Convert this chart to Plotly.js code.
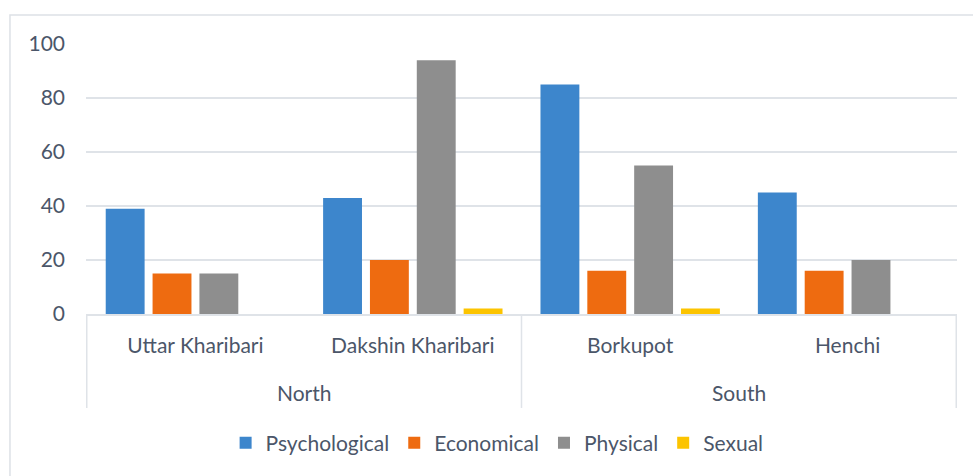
<!DOCTYPE html>
<html>
<head>
<meta charset="utf-8">
<script src="https://cdn.plot.ly/plotly-3.0.1.min.js"></script>
<style>
html,body{margin:0;padding:0;background:#fff;}
#chart{width:973px;height:476px;}
</style>
</head>
<body>
<div id="chart"></div>
<script>
var regions = ["North", "North", "South", "South"];
var villages = ["Uttar Kharibari", "Dakshin Kharibari", "Borkupot", "Henchi"];
var seriesNames = ["Psychological", "Economical", "Physical", "Sexual"];
var psychological = [39, 43, 85, 45];
var economical = [15, 20, 16, 16];
var physical = [15, 94, 55, 20];
var sexual = [0, 2, 2, 0];
var yTicks = [0, 20, 40, 60, 80, 100];

var seriesValues = [psychological, economical, physical, sexual];
var colors = ["#3d86cc", "#ee6b10", "#8e8e8e", "#fcc400"];

var traces = seriesNames.map(function (name, i) {
  return {
    type: "bar",
    name: name,
    x: villages,
    y: seriesValues[i],
    marker: {color: colors[i]},
    hoverinfo: "x+y+name"
  };
});

var textColor = "#4b5669";
var gridColor = "#dfe3e8";
var fontFamily = "Lato, sans-serif";

// group (region) labels and dividers derived from the regions array
var annotations = [];
var shapes = [];
var groupStart = 0;
for (var i = 1; i <= regions.length; i++) {
  if (i === regions.length || regions[i] !== regions[groupStart]) {
    annotations.push({
      xref: "x", yref: "paper",
      x: (groupStart + i - 1) / 2, y: -0.289,
      xanchor: "center", yanchor: "middle",
      text: regions[groupStart],
      showarrow: false,
      font: {family: fontFamily, size: 21, color: textColor}
    });
    groupStart = i;
  }
}
var boundaries = [-0.5];
for (var j = 1; j < regions.length; j++) {
  if (regions[j] !== regions[j - 1]) boundaries.push(j - 0.5);
}
boundaries.push(regions.length - 0.5);
boundaries.forEach(function (b) {
  shapes.push({
    type: "line", xref: "x", yref: "paper",
    x0: b, x1: b, y0: 0, y1: -0.348,
    line: {color: gridColor, width: 1.5}
  });
});
shapes.push({
  type: "rect",
  xref: "paper", yref: "paper",
  x0: -0.0873, x1: 1.5, y0: -2, y1: 1.107,
  line: {color: "#dde1e6", width: 1.5},
  fillcolor: "rgba(0,0,0,0)",
  layer: "below"
});

var layout = {
  width: 973,
  height: 476,
  margin: {l: 86, r: 16, t: 44, b: 162},
  paper_bgcolor: "#ffffff",
  plot_bgcolor: "#ffffff",
  font: {family: fontFamily, size: 21, color: textColor},
  barmode: "group",
  bargap: 0.138,
  bargroupgap: 0.17,
  showlegend: true,
  legend: {
    orientation: "h",
    x: 0.472, xanchor: "center",
    y: -0.478, yanchor: "middle",
    font: {family: fontFamily, size: 21, color: textColor},
    traceorder: "normal"
  },
  xaxis: {
    type: "category",
    showgrid: false,
    showline: true,
    linecolor: gridColor,
    linewidth: 1.5,
    ticks: "",
    ticklabelstandoff: 12,
    tickfont: {family: fontFamily, size: 21, color: textColor},
    fixedrange: true
  },
  yaxis: {
    range: [0, 100],
    tickvals: yTicks,
    showgrid: true,
    gridcolor: gridColor,
    gridwidth: 1.5,
    zeroline: false,
    showline: false,
    ticks: "",
    ticklabelstandoff: 20,
    tickfont: {family: fontFamily, size: 21, color: textColor},
    fixedrange: true
  },
  annotations: annotations,
  shapes: shapes
};

Plotly.newPlot("chart", traces, layout, {displayModeBar: false, staticPlot: true});
</script>
</body>
</html>
